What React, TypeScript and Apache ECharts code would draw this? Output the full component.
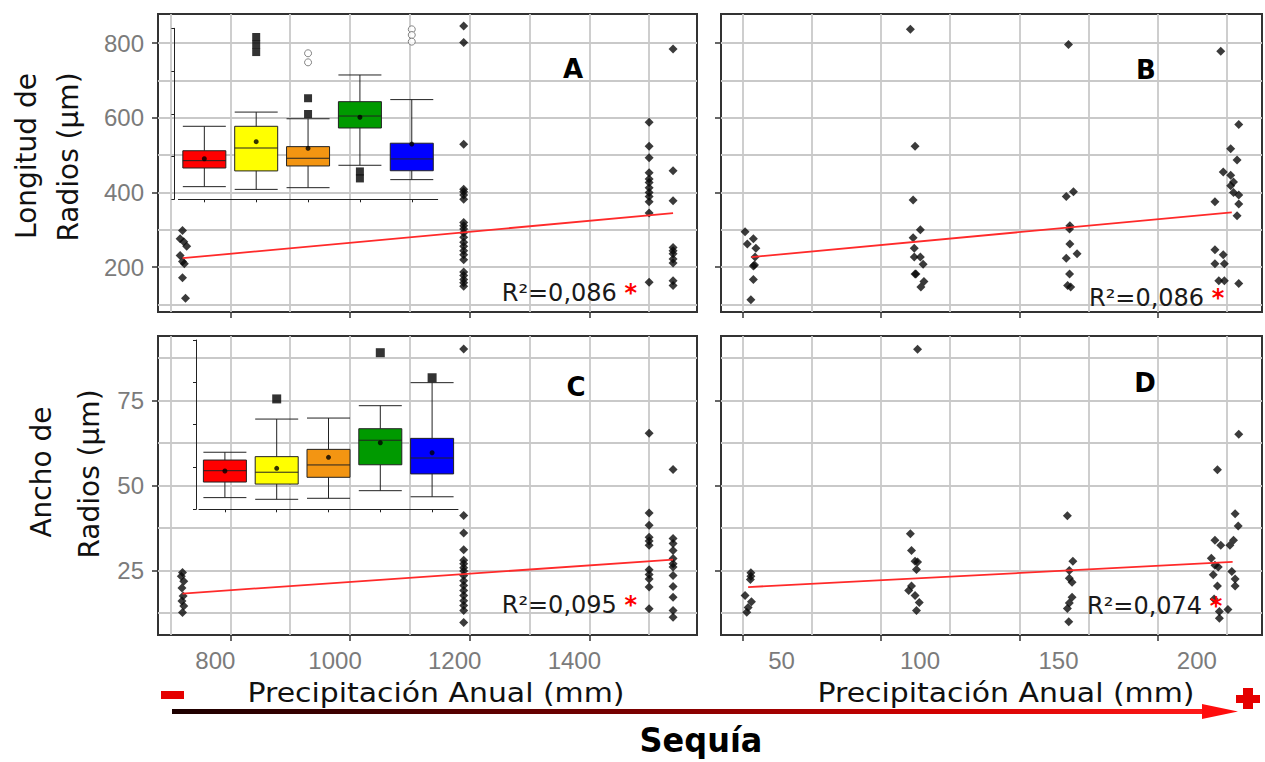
import { useEffect, useRef } from 'react';
import * as echarts from 'echarts';

// ---------- data ----------
// Panel A: Longitud de radios vs precipitación anual (mm)
const longPrecipPoints: number[][] = [
  [720, 298], [716, 276], [722, 268], [727, 256], [716, 231], [720, 215], [723, 209], [720, 172], [725, 117],
  [1190, 846], [1190, 802], [1190, 529], [1190, 409], [1190, 402], [1190, 393], [1190, 382], [1190, 320], [1190, 311],
  [1190, 302], [1190, 292], [1190, 280], [1190, 267], [1190, 256], [1190, 244], [1190, 233], [1190, 220], [1190, 187],
  [1190, 178], [1190, 167], [1190, 158], [1190, 149],
  [1500, 588], [1500, 524], [1500, 493], [1500, 453], [1500, 436], [1500, 427], [1500, 413], [1500, 400], [1500, 389],
  [1500, 375], [1500, 345], [1500, 160],
  [1540, 784], [1540, 458], [1540, 378], [1540, 253], [1540, 244], [1540, 236], [1540, 222], [1540, 211], [1540, 164], [1540, 151],
];
// Panel B: Longitud de radios vs second precipitation gradient
const longDryPoints: number[][] = [
  [50.9, 295], [51.7, 262], [53.9, 276], [54.8, 251], [54.5, 227], [54.3, 206], [53.9, 203], [53.9, 167], [53, 113],
  [110.6, 837], [112.3, 524], [111.6, 380], [114.2, 300], [111.6, 279], [112, 251], [112, 227], [114.2, 227], [115.2, 208],
  [112.3, 182], [112.6, 182], [115.5, 162], [114.4, 147],
  [167.7, 796], [166.9, 389], [169.5, 402], [168.2, 311], [168.1, 302], [168.2, 262], [166.9, 224], [170.8, 236],
  [168.1, 182], [167.4, 151], [168.5, 147],
  [222.7, 778], [229.2, 582], [226.3, 517], [228.6, 487], [223.6, 455], [226.3, 446], [227.3, 428], [226.3, 418],
  [227.3, 400], [229.2, 393], [229.2, 369], [220.6, 375], [228.6, 338], [220.6, 247], [223.6, 233], [220.6, 209],
  [224, 209], [222, 164], [224, 164], [229.2, 156],
];
// Panel C: Ancho de radios vs precipitación anual
const anchoPrecipPoints: number[][] = [
  [720, 24.4], [718, 23.3], [722, 21.8], [719, 19.8], [721, 17.5], [719, 16], [722, 14.5], [720, 12.6],
  [1190, 90.2], [1190, 41.2], [1190, 36], [1190, 31.1], [1190, 28], [1190, 27], [1190, 25.8], [1190, 24.8], [1190, 23.5],
  [1190, 22], [1190, 20.6], [1190, 19.1], [1190, 17.6], [1190, 16.1], [1190, 14.7], [1190, 13.2], [1190, 9.7],
  [1500, 65.4], [1500, 41.9], [1500, 38.3], [1500, 34.8], [1500, 33.7], [1500, 32.4], [1500, 25.2], [1500, 23.8],
  [1500, 22.5], [1500, 20.1], [1500, 13.7],
  [1540, 54.7], [1540, 34.4], [1540, 32.9], [1540, 30.9], [1540, 28.5], [1540, 27], [1540, 26], [1540, 23.5],
  [1540, 20.3], [1540, 17.1], [1540, 13.2], [1540, 11.2],
];
// Panel D: Ancho de radios vs second gradient
const anchoDryPoints: number[][] = [
  [53, 24.3], [53, 23.3], [52.8, 22.3], [50.9, 17.6], [53.2, 15.8], [52, 14.1], [51.5, 12.7],
  [113.2, 90.1], [110.6, 35.8], [111, 30.9], [112.3, 27.7], [113.2, 27.5], [112.8, 25.3], [111, 20.4], [110, 19.1],
  [112.3, 17.6], [113.8, 15.6], [112.8, 13.2],
  [167.3, 41.1], [169.3, 27.7], [168, 25], [169, 21.5], [168, 22.7], [169, 17.1], [168, 15.4], [167.3, 13.8], [167.8, 9.9],
  [221.5, 54.6], [229.2, 65.1], [227.9, 41.7], [229, 38.1], [227.3, 33.9], [226, 32.4], [220.6, 33.9], [222.7, 32.4],
  [219.3, 28.6], [220.6, 26.5], [221.8, 26], [220, 23.7], [221.5, 20.4], [226.7, 24.7], [227.9, 22.5], [227.9, 20.4],
  [220.3, 16.6], [222.2, 12.9], [222.2, 10.9], [225.3, 13.5],
];

// regression lines (end points)
const fitA: number[][] = [[720, 224], [1540, 345]];
const fitB: number[][] = [[53.2, 227], [226.7, 347]];
const fitC: number[][] = [[720, 18.2], [1540, 28.2]];
const fitD: number[][] = [[52, 20.1], [227, 27.5]];
const r2Texts = ['R²=0,086', 'R²=0,086', 'R²=0,095', 'R²=0,074'];
const panelLetters = ['A', 'B', 'C', 'D'];

// axes
const precipTicks = [800, 1000, 1200, 1400];
const precipGridVals = [700, 800, 900, 1000, 1100, 1200, 1300, 1400, 1500];
const dryTicks = [50, 100, 150, 200];
const dryGridVals = [50, 75, 100, 125, 150, 175, 200, 225];
const longTicks = [200, 400, 600, 800];
const longGridVals = [100, 200, 300, 400, 500, 600, 700, 800];
const anchoTicks = [25, 50, 75];
const anchoGridVals = [12.5, 25, 37.5, 50, 62.5, 75, 87.5];

// inset boxplots (five sites)
const sites = ['S1', 'S2', 'S3', 'S4', 'S5'];
const siteColors = ['#ff0000', '#ffff00', '#f39512', '#009a00', '#0000ff'];
const longBox: number[][] = [
  [74, 183, 226, 284, 427],
  [58, 166, 300, 427, 510],
  [68, 195, 240, 308, 471],
  [199, 417, 487, 571, 727],
  [115, 167, 236, 328, 583],
];
const longMeans = [237, 337, 298, 480, 323];
const longOutSquares: number[][] = [[1, 949], [1, 905], [1, 861], [2, 591], [2, 499], [3, 163], [3, 122]];
const longOutCircles: number[][] = [[2, 854], [2, 801], [4, 994], [4, 961], [4, 922]];
const anchoBox: number[][] = [
  [6.9, 16.1, 22.8, 29.1, 33.7],
  [5.9, 14.9, 21.9, 31.1, 53.3],
  [6.5, 18.9, 26.2, 35.4, 53.9],
  [11, 26.3, 40.8, 47.6, 61.2],
  [7.4, 20.9, 30.3, 41.9, 74.8],
];
const anchoMeans = [22.6, 24.2, 30.7, 39.3, 33.4];
const anchoOutSquares: number[][] = [[1, 65.2], [3, 92.5], [4, 77.7]];

// ---------- helpers ----------
const TICK_FONT = 'Liberation Sans';
const TXT_FONT = 'DejaVu Sans';
const TICK_COLOR = '#7b7b7b';

function labelAxis(dim: 'x' | 'y', gridIndex: number, min: number, max: number, ticks: number[], showLabel: boolean, padding?: number[]) {
  return {
    type: 'value', gridIndex, min, max, position: dim === 'x' ? 'bottom' : 'left',
    axisLine: { show: false },
    axisTick: { show: true, length: 6, customValues: ticks, lineStyle: { color: '#333', width: 1.5 } },
    axisLabel: {
      show: showLabel, customValues: ticks, margin: dim === 'x' ? 13 : 14,
      color: TICK_COLOR, fontSize: 24, fontFamily: TICK_FONT,
      formatter: (v: number) => String(v),
      padding: padding || (dim === 'y' ? [4, 0, 0, 0] : [0, 0, 0, 0]),
    },
    splitLine: { show: false },
  };
}
function gridAxis(dim: 'x' | 'y', gridIndex: number, min: number, max: number, vals: number[]) {
  return {
    type: 'value', gridIndex, min, max, position: dim === 'x' ? 'bottom' : 'left',
    axisLine: { show: false },
    axisTick: { show: false, customValues: vals },
    axisLabel: { show: false, customValues: vals },
    splitLine: { show: true, lineStyle: { color: '#c9c9c9', width: 1.8 } },
  };
}

const mainGrids = [
  { left: 158, top: 14, width: 539, height: 298 },
  { left: 721, top: 14, width: 541, height: 298 },
  { left: 158, top: 336, width: 539, height: 299 },
  { left: 721, top: 336, width: 541, height: 299 },
];
const xr = [[679, 1580], [42.2, 237.6], [679, 1580], [42.2, 237.6]];
const yr = [[80, 878], [80, 878], [6, 94], [6, 94]];

function buildOption() {
  const grid: any[] = mainGrids.map((g) => ({ ...g, show: true, borderColor: '#333', borderWidth: 2, backgroundColor: 'transparent' }));
  grid.push({ left: 178.4, top: 28.3, width: 259.3, height: 171, show: false });
  grid.push({ left: 199, top: 340, width: 259, height: 169.3, show: false });

  const xAxis: any[] = [
    labelAxis('x', 0, xr[0][0], xr[0][1], precipTicks, false), gridAxis('x', 0, xr[0][0], xr[0][1], precipGridVals),
    labelAxis('x', 1, xr[1][0], xr[1][1], dryTicks, false), gridAxis('x', 1, xr[1][0], xr[1][1], dryGridVals),
    labelAxis('x', 2, xr[2][0], xr[2][1], precipTicks, true, [0, 30, 0, 0]), gridAxis('x', 2, xr[2][0], xr[2][1], precipGridVals),
    labelAxis('x', 3, xr[3][0], xr[3][1], dryTicks, true, [0, 0, 0, 78]), gridAxis('x', 3, xr[3][0], xr[3][1], dryGridVals),
  ];
  const yAxis: any[] = [
    labelAxis('y', 0, yr[0][0], yr[0][1], longTicks, true), gridAxis('y', 0, yr[0][0], yr[0][1], longGridVals),
    labelAxis('y', 1, yr[1][0], yr[1][1], longTicks, false), gridAxis('y', 1, yr[1][0], yr[1][1], longGridVals),
    labelAxis('y', 2, yr[2][0], yr[2][1], anchoTicks, true), gridAxis('y', 2, yr[2][0], yr[2][1], anchoGridVals),
    labelAxis('y', 3, yr[3][0], yr[3][1], anchoTicks, false), gridAxis('y', 3, yr[3][0], yr[3][1], anchoGridVals),
  ];
  const insetX = (gi: number) => ({
    type: 'category', gridIndex: gi, data: sites, position: 'bottom',
    axisLine: { show: true, lineStyle: { color: '#222', width: 1 } },
    axisTick: { show: true, alignWithLabel: true, length: 3, lineStyle: { color: '#222' } },
    axisLabel: { show: false }, splitLine: { show: false },
  });
  const insetY = (gi: number, max: number, interval: number, offset: number) => ({
    type: 'value', gridIndex: gi, min: 0, max, interval, position: 'left', offset,
    axisLine: { show: true, lineStyle: { color: '#222', width: 1 } },
    axisTick: { show: true, length: 3, lineStyle: { color: '#222' } },
    axisLabel: { show: false }, splitLine: { show: false },
  });
  xAxis.push(insetX(4), insetX(5));
  yAxis.push(insetY(4, 1000, 250, 4), insetY(5, 100, 25, 3));

  const pts = [longPrecipPoints, longDryPoints, anchoPrecipPoints, anchoDryPoints];
  const fits = [fitA, fitB, fitC, fitD];
  const series: any[] = [];
  pts.forEach((p, i) => {
    series.push({
      type: 'scatter', xAxisIndex: 2 * i, yAxisIndex: 2 * i, data: p,
      symbol: 'diamond', symbolSize: 9, itemStyle: { color: '#0a0a0a' }, z: 3, clip: false,
    });
    series.push({
      type: 'line', xAxisIndex: 2 * i, yAxisIndex: 2 * i, data: fits[i], showSymbol: false, symbol: 'none',
      lineStyle: { color: '#ff2a2a', width: 1.8 }, z: 4,
    });
  });
  const boxSeries = (axisIdx: number, box: number[][], means: number[], squares: number[][], circles: number[][], sq: number) => {
    series.push({
      type: 'boxplot', xAxisIndex: axisIdx, yAxisIndex: axisIdx, boxWidth: [43, 43], z: 5,
      data: box.map((b, i) => ({ value: b, itemStyle: { color: siteColors[i], borderColor: '#222', borderWidth: 1 } })),
    });
    series.push({
      type: 'scatter', xAxisIndex: axisIdx, yAxisIndex: axisIdx, z: 6, clip: false,
      data: means.map((m, i) => [i, m]), symbol: 'circle', symbolSize: 5, itemStyle: { color: '#000' },
    });
    series.push({
      type: 'scatter', xAxisIndex: axisIdx, yAxisIndex: axisIdx, z: 6, clip: false,
      data: squares, symbol: 'rect', symbolSize: sq, itemStyle: { color: '#000' },
    });
    if (circles.length) {
      series.push({
        type: 'scatter', xAxisIndex: axisIdx, yAxisIndex: axisIdx, z: 6, clip: false,
        data: circles, symbol: 'circle', symbolSize: 7,
        itemStyle: { color: '#ffffff', borderColor: '#666', borderWidth: 1 },
      });
    }
  };
  boxSeries(8, longBox, longMeans, longOutSquares, longOutCircles, 8);
  boxSeries(9, anchoBox, anchoMeans, anchoOutSquares, [], 9);

  const txt = (text: string, x: number, y: number, size: number, extra: any = {}, styleExtra: any = {}) => ({
    type: 'text', x, y, z: 100, ...extra,
    style: {
      text, fontSize: size, fontFamily: TXT_FONT, fill: '#111',
      textAlign: 'center', textVerticalAlign: 'middle', ...styleExtra,
    },
  });
  const r2Pos = [[501.7, 293], [1089, 298], [501.7, 605], [1087, 606]];
  const letterPos = [[573, 69], [1146, 70], [576, 387], [1145, 383]];

  const elements: any[] = [
    txt('Longitud de', 26, 156, 28, { rotation: Math.PI / 2 }),
    txt('Radios (µm)', 68, 157, 28, { rotation: Math.PI / 2 }),
    txt('Ancho de', 41, 472, 28, { rotation: Math.PI / 2 }),
    txt('Radios (µm)', 89, 474, 28, { rotation: Math.PI / 2 }),
    txt('Precipitación Anual (mm)', 436, 693, 26, { scaleX: 1.15 }),
    txt('Precipitación Anual (mm)', 1006, 693, 26, { scaleX: 1.15 }),
    txt('Sequía', 701, 740, 34, { scaleX: 0.94 }, { fontWeight: 'bold', fill: '#000' }),
    {
      type: 'rect', z: 100, shape: { x: 172, y: 709, width: 1032, height: 5 },
      style: {
        fill: new echarts.graphic.LinearGradient(0, 0, 1, 0, [
          { offset: 0, color: '#1c0000' }, { offset: 0.45, color: '#7a0000' },
          { offset: 0.75, color: '#d40000' }, { offset: 1, color: '#ff1a1a' },
        ]),
      },
    },
    { type: 'polygon', z: 100, shape: { points: [[1202, 704], [1238, 711.5], [1202, 719]] }, style: { fill: '#ff0d0d' } },
    { type: 'rect', z: 100, shape: { x: 161, y: 691, width: 23, height: 8 }, style: { fill: '#e50000' } },
    { type: 'rect', z: 100, shape: { x: 1236, y: 695, width: 24, height: 8 }, style: { fill: '#e50000' } },
    { type: 'rect', z: 100, shape: { x: 1243, y: 688, width: 10, height: 21 }, style: { fill: '#e50000' } },
  ];
  panelLetters.forEach((l, i) => {
    elements.push(txt(l, letterPos[i][0], letterPos[i][1], 26, {}, { fontWeight: 'bold', fill: '#000' }));
  });
  r2Texts.forEach((t, i) => {
    elements.push({
      type: 'text', x: r2Pos[i][0], y: r2Pos[i][1], z: 100,
      style: {
        text: `{t|${t}} {s|*}`, fontSize: 24, fontFamily: TXT_FONT, fill: '#1a1a1a',
        textAlign: 'left', textVerticalAlign: 'middle',
        rich: {
          t: { fontSize: 24, fontFamily: TXT_FONT, fill: '#1a1a1a', color: '#1a1a1a' },
          s: { fontSize: 24, fontFamily: TXT_FONT, fontWeight: 'bold', fill: '#ff0000', color: '#ff0000' },
        },
      },
    });
  });

  return { animation: false, backgroundColor: '#ffffff', grid, xAxis, yAxis, series, graphic: { elements } };
}

export default function App() {
  const ref = useRef<HTMLDivElement>(null);
  useEffect(() => {
    const chart = echarts.init(ref.current as HTMLDivElement, null, { renderer: 'svg' });
    chart.setOption(buildOption() as any);
    return () => chart.dispose();
  }, []);
  return (
    <div
      ref={ref}
      style={{ position: 'absolute', left: 0, top: 0, width: 1265, height: 762, background: '#fff' }}
    />
  );
}
